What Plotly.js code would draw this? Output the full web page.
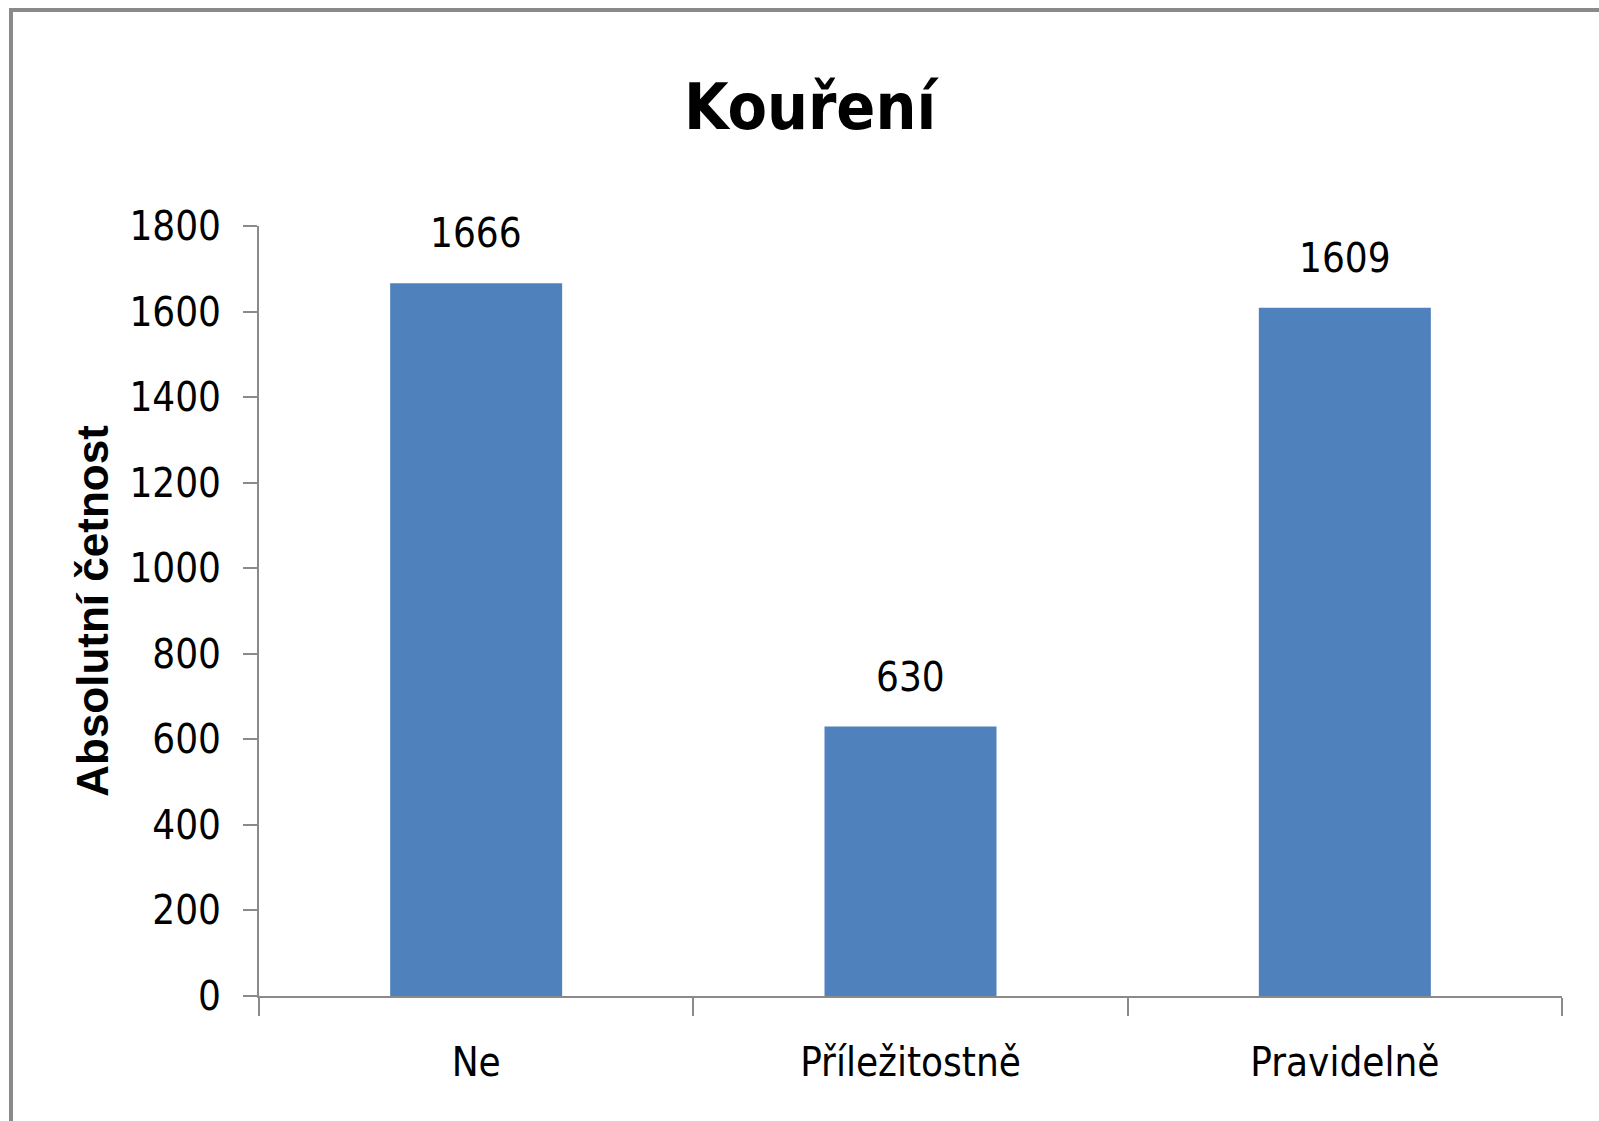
<!DOCTYPE html>
<html>
<head>
<meta charset="utf-8">
<script src="https://cdn.plot.ly/plotly-3.0.1.min.js"></script>
<style>
  html, body { margin: 0; padding: 0; background: #ffffff; }
  #wrap { position: relative; width: 1599px; height: 1121px; overflow: hidden; }
  #chart { position: absolute; left: 0; top: 0; width: 1599px; height: 1121px; }
  #frame { position: absolute; left: 9px; top: 8px; width: 1700px; height: 1300px;
           border-left: 4px solid #8a8a8a; border-top: 4px solid #8a8a8a; pointer-events: none; }
</style>
</head>
<body>
<div id="wrap">
  <div id="chart"></div>
  <div id="frame"></div>
</div>
<script>
const categories = ["Ne", "Příležitostně", "Pravidelně"];
const counts = [1666, 630, 1609];
const yTicks = [0, 200, 400, 600, 800, 1000, 1200, 1400, 1600, 1800];
const chartTitle = "Kouření";
const yTitle = "Absolutní četnost";

const narrow = "'Liberation Sans Narrow', 'DejaVu Sans Condensed', 'Arial Narrow', sans-serif";

const trace = {
  type: "bar",
  x: categories,
  y: counts,
  marker: { color: "#4F81BD", line: { width: 0 } },
  hoverinfo: "none"
};

const annotations = categories.map((c, i) => ({
  x: c, y: counts[i], xref: "x", yref: "y",
  text: String(counts[i]),
  showarrow: false,
  yanchor: "bottom",
  yshift: 25,
  font: { family: narrow, size: 40, color: "#000000" }
}));

const layout = {
  width: 1599, height: 1121,
  paper_bgcolor: "rgba(0,0,0,0)",
  plot_bgcolor: "rgba(0,0,0,0)",
  margin: { l: 259, r: 37, t: 226, b: 125, pad: 0 },
  showlegend: false,
  bargap: 0.604,
  title: {
    text: "<b>" + chartTitle + "</b>",
    x: 810 / 1599, xref: "container", xanchor: "center",
    y: 1 - 107 / 1121, yref: "container", yanchor: "middle",
    font: { family: narrow, size: 64, color: "#000000" }
  },
  xaxis: {
    type: "category",
    showline: true, linecolor: "#8a8a8a", linewidth: 2,
    ticks: "outside", tickson: "boundaries", ticklen: 18, tickwidth: 2, tickcolor: "#8a8a8a",
    showgrid: false, zeroline: false,
    tickfont: { family: narrow, size: 40, color: "#000000" },
    ticklabelstandoff: 30,
    fixedrange: true
  },
  yaxis: {
    range: [0, 1800],
    tickmode: "array", tickvals: yTicks, ticktext: yTicks.map(String),
    showline: true, linecolor: "#8a8a8a", linewidth: 2,
    ticks: "outside", ticklen: 14, tickwidth: 2, tickcolor: "#8a8a8a",
    showgrid: false, zeroline: false,
    tickfont: { family: narrow, size: 40, color: "#000000" },
    ticklabelstandoff: 14,
    title: {
      text: "<b>" + yTitle + "</b>",
      font: { family: "'Liberation Sans', Arial, sans-serif", size: 44, color: "#000000" },
      standoff: 7
    },
    fixedrange: true
  },
  annotations: annotations
};

Plotly.newPlot("chart", [trace], layout, { staticPlot: true, displayModeBar: false });
</script>
</body>
</html>
